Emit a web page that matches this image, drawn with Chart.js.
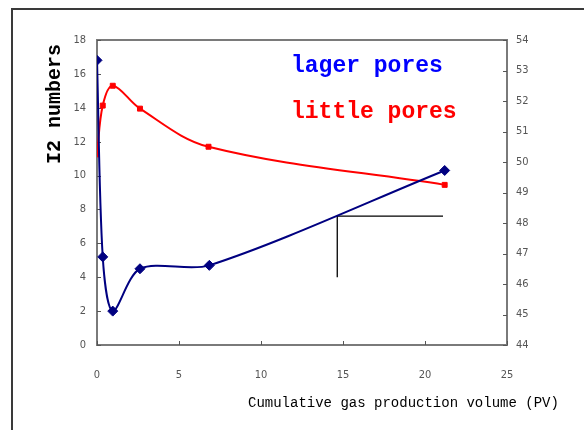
<!DOCTYPE html>
<html>
<head>
<meta charset="utf-8">
<script src="https://cdn.jsdelivr.net/npm/chart.js@4/dist/chart.umd.min.js"></script>
<style>
  html,body{margin:0;padding:0;background:#fff;}
  #wrap{position:relative;width:584px;height:430px;overflow:hidden;}
  #frame{position:absolute;left:11px;top:8px;width:600px;height:500px;border-top:2px solid #3a3a3a;border-left:2px solid #3a3a3a;}
  canvas{position:absolute;left:0;top:0;}
</style>
</head>
<body>
<div id="wrap">
  <div id="frame"></div>
  <canvas id="c" width="584" height="430"></canvas>
</div>
<script>
// ---- data ----
const largeX = [0, 0.35, 0.96, 2.62, 6.85, 21.2];
const largeY = [16.8, 5.2, 2.0, 4.5, 4.7, 10.3];
const littleX = [0, 0.35, 0.96, 2.62, 6.8, 21.2];
const littleY = [50.25, 51.85, 52.5, 51.75, 50.5, 49.25];
const guideX = [21.1, 14.65, 14.65];
const guideY = [7.6, 7.6, 4.0];
const xTicks = [0, 5, 10, 15, 20, 25];
const leftTicks = [0, 2, 4, 6, 8, 10, 12, 14, 16, 18];
const rightTicks = [44, 45, 46, 47, 48, 49, 50, 51, 52, 53, 54];
const labelLarge = "lager pores";
const labelLittle = "little pores";
const yTitle = "I2 numbers";
const xTitle = "Cumulative gas production volume (PV)";

const pts = (xs, ys) => xs.map((x, i) => ({x: x, y: ys[i]}));

const tickFont = {family: "'Liberation Sans Narrow', 'DejaVu Sans Condensed', 'Liberation Sans'", size: 11};

const decor = {
  id: 'decor',
  beforeDatasetsDraw(chart) {
    const {ctx, chartArea: a, scales} = chart;
    ctx.save();
    ctx.strokeStyle = '#7a7a7a';
    ctx.lineWidth = 2;
    ctx.strokeRect(a.left, a.top, a.right - a.left, a.bottom - a.top);
    ctx.strokeStyle = '#555';
    ctx.lineWidth = 1;
    ctx.beginPath();
    leftTicks.forEach(v => { const y = Math.round(scales.y.getPixelForValue(v)) + 0.5; ctx.moveTo(a.left, y); ctx.lineTo(a.left + 4, y); });
    rightTicks.forEach(v => { const y = Math.round(scales.y2.getPixelForValue(v)) + 0.5; ctx.moveTo(a.right - 4, y); ctx.lineTo(a.right, y); });
    xTicks.forEach(v => { const x = Math.round(scales.x.getPixelForValue(v)) + 0.5; ctx.moveTo(x, a.bottom); ctx.lineTo(x, a.bottom - 4); });
    ctx.stroke();
    ctx.restore();
  },
  afterDraw(chart) {
    const {ctx} = chart;
    ctx.save();
    ctx.translate(55, 104);
    ctx.rotate(-Math.PI / 2);
    ctx.font = "bold 20px 'Liberation Mono', 'DejaVu Sans Mono', monospace";
    ctx.fillStyle = '#000';
    ctx.textAlign = 'center';
    ctx.textBaseline = 'middle';
    ctx.fillText(yTitle, 0, 0);
    ctx.restore();
    ctx.save();
    ctx.font = "14px 'Liberation Mono', 'DejaVu Sans Mono', monospace";
    ctx.fillStyle = '#000';
    ctx.textAlign = 'left';
    ctx.textBaseline = 'middle';
    ctx.fillText(xTitle, 248, 403);
    ctx.font = "bold 23px 'Liberation Mono', 'DejaVu Sans Mono', monospace";
    ctx.fillStyle = '#0000ff';
    ctx.fillText(labelLarge, 291, 66);
    ctx.fillStyle = '#ff0000';
    ctx.fillText(labelLittle, 291, 112);
    ctx.restore();
  }
};

new Chart(document.getElementById('c'), {
  type: 'scatter',
  data: {
    datasets: [
      {
        label: labelLarge,
        data: pts(largeX, largeY),
        yAxisID: 'y',
        showLine: true,
        borderColor: '#000080',
        backgroundColor: '#000080',
        borderWidth: 2,
        tension: 0.3,
        pointStyle: 'rectRot',
        pointRadius: 5,
        pointBorderWidth: 1
      },
      {
        label: labelLittle,
        data: pts(littleX, littleY),
        yAxisID: 'y2',
        showLine: true,
        borderColor: '#ff0000',
        backgroundColor: '#ff0000',
        borderWidth: 2,
        tension: 0.35,
        pointStyle: 'rect',
        pointRadius: 3.5,
        pointBorderWidth: 1
      },
      {
        label: 'guide',
        data: pts(guideX, guideY),
        yAxisID: 'y',
        showLine: true,
        borderColor: '#000',
        borderWidth: 1.3,
        tension: 0,
        pointRadius: 0
      }
    ]
  },
  options: {
    responsive: false,
    animation: false,
    devicePixelRatio: 1,
    layout: {padding: {top: 40, left: 0, right: 0, bottom: 0}},
    plugins: {legend: {display: false}, tooltip: {enabled: false}},
    scales: {
      x: {
        type: 'linear', min: 0, max: 25,
        afterBuildTicks: s => { s.ticks = xTicks.map(v => ({value: v})); },
        afterFit: s => { s.height = 85; s.paddingLeft = 0; s.paddingRight = 0; },
        grid: {display: false, drawTicks: false},
        border: {display: false},
        ticks: {color: '#555', font: tickFont, padding: 24, maxRotation: 0}
      },
      y: {
        position: 'left', min: 0, max: 18,
        afterBuildTicks: s => { s.ticks = leftTicks.map(v => ({value: v})); },
        afterFit: s => { s.width = 97; s.paddingTop = 0; s.paddingBottom = 0; },
        grid: {display: false, drawTicks: false},
        border: {display: false},
        ticks: {color: '#555', font: tickFont, padding: 11}
      },
      y2: {
        position: 'right', min: 44, max: 54,
        afterBuildTicks: s => { s.ticks = rightTicks.map(v => ({value: v})); },
        afterFit: s => { s.width = 77; s.paddingTop = 0; s.paddingBottom = 0; },
        grid: {display: false, drawTicks: false},
        border: {display: false},
        ticks: {color: '#555', font: tickFont, padding: 9}
      }
    }
  },
  plugins: [decor]
});
</script>
</body>
</html>
